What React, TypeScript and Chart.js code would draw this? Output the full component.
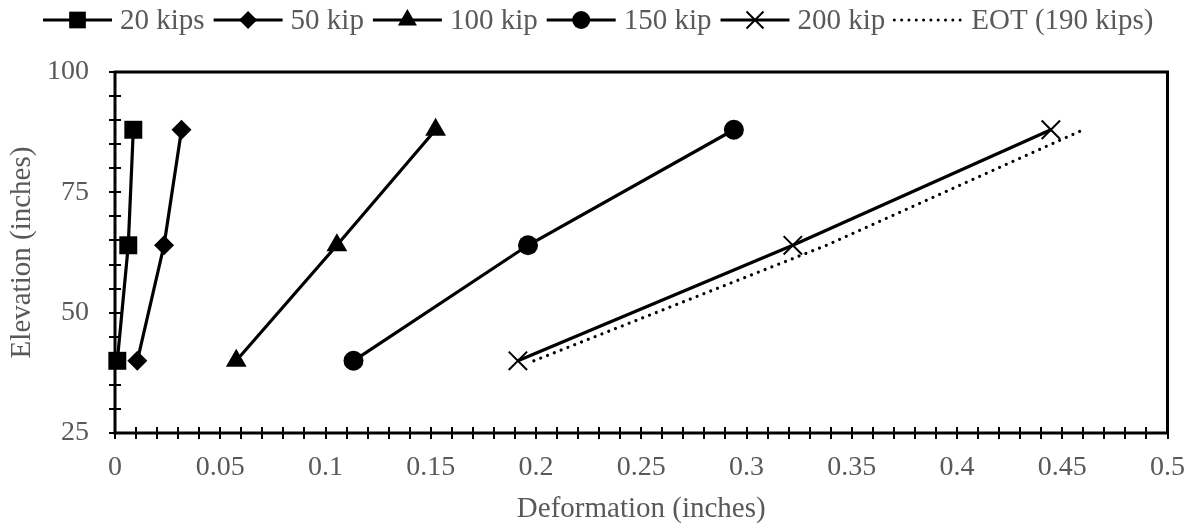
import React, { useEffect, useRef } from 'react';
import { Chart, registerables } from 'chart.js';

Chart.register(...registerables);

// ---- data ----
const elevations = [40, 64, 88];
const seriesLabels = ['20 kips', '50 kip', '100 kip', '150 kip', '200 kip', 'EOT (190 kips)'];
const def20 = [0.0011, 0.0063, 0.0087];
const def50 = [0.0106, 0.0233, 0.0316];
const def100 = [0.0576, 0.1054, 0.1523];
const def150 = [0.1133, 0.1962, 0.294];
const def200 = [0.1914, 0.322, 0.4446];
const defEOT = [0.199, 0.338, 0.46];
const xTickLabels = ['0', '0.05', '0.1', '0.15', '0.2', '0.25', '0.3', '0.35', '0.4', '0.45', '0.5'];
const yTickLabels = ['25', '50', '75', '100'];

const FONT = "'Liberation Serif', 'Times New Roman', serif";
const TEXT = '#595959';

type Sty = { pointStyle: any; radius: number; pbw: number; legendR: number; dash?: number[] };
const styles: Sty[] = [
  { pointStyle: 'rect', radius: 12.7, pbw: 0, legendR: 11.8 },
  { pointStyle: 'rectRot', radius: 10, pbw: 0, legendR: 9 },
  { pointStyle: 'triangle', radius: 12, pbw: 0, legendR: 11 },
  { pointStyle: 'circle', radius: 10, pbw: 0, legendR: 9 },
  { pointStyle: 'crossRot', radius: 13, pbw: 2, legendR: 12 },
  { pointStyle: false, radius: 0, pbw: 0, legendR: 0, dash: [0.01, 7.3] },
];

function drawMarker(ctx: CanvasRenderingContext2D, style: any, x: number, y: number, r: number) {
  ctx.save();
  ctx.fillStyle = '#000';
  ctx.strokeStyle = '#000';
  ctx.beginPath();
  if (style === 'rect') {
    const s = r * Math.SQRT1_2;
    ctx.rect(x - s, y - s, 2 * s, 2 * s);
    ctx.fill();
  } else if (style === 'rectRot') {
    ctx.moveTo(x - r, y);
    ctx.lineTo(x, y - r);
    ctx.lineTo(x + r, y);
    ctx.lineTo(x, y + r);
    ctx.closePath();
    ctx.fill();
  } else if (style === 'triangle') {
    ctx.moveTo(x, y - r);
    ctx.lineTo(x + 0.866 * r, y + 0.5 * r);
    ctx.lineTo(x - 0.866 * r, y + 0.5 * r);
    ctx.closePath();
    ctx.fill();
  } else if (style === 'circle') {
    ctx.arc(x, y, r, 0, Math.PI * 2);
    ctx.fill();
  } else if (style === 'crossRot') {
    const d = r * Math.SQRT1_2;
    ctx.lineWidth = 2;
    ctx.moveTo(x - d, y - d);
    ctx.lineTo(x + d, y + d);
    ctx.moveTo(x + d, y - d);
    ctx.lineTo(x - d, y + d);
    ctx.stroke();
  }
  ctx.restore();
}

const framePlugin = {
  id: 'frameTicks',
  beforeDatasetsDraw(chart: any) {
    const { ctx, chartArea } = chart;
    const xs = chart.scales.x;
    const ys = chart.scales.y;
    ctx.save();
    ctx.strokeStyle = '#000';
    ctx.lineWidth = 2;
    ctx.beginPath();
    xs.ticks.forEach((t: any) => {
      const px = Math.round(xs.getPixelForValue(t.value));
      ctx.moveTo(px, chartArea.bottom);
      ctx.lineTo(px, chartArea.bottom - 6);
    });
    ys.ticks.forEach((t: any) => {
      const py = Math.round(ys.getPixelForValue(t.value));
      ctx.moveTo(chartArea.left, py);
      ctx.lineTo(chartArea.left + 6, py);
    });
    ctx.stroke();
    ctx.lineWidth = 3;
    ctx.strokeRect(chartArea.left, chartArea.top, chartArea.right - chartArea.left, chartArea.bottom - chartArea.top);
    ctx.restore();
  },
  afterDraw(chart: any) {
    const ctx: CanvasRenderingContext2D = chart.ctx;
    const fontSize = 29;
    ctx.save();
    ctx.font = `${fontSize}px ${FONT}`;
    const lineLen = 69;
    const gapLT = 8;
    const gapTT = 9;
    const widths = seriesLabels.map((l) => ctx.measureText(l).width);
    let x = 43;
    const y = 20;
    seriesLabels.forEach((label, i) => {
      const st = styles[i];
      ctx.save();
      ctx.strokeStyle = '#000';
      ctx.lineWidth = 3;
      if (st.dash) {
        ctx.setLineDash(st.dash);
        ctx.lineCap = 'round';
      }
      ctx.beginPath();
      ctx.moveTo(x, y);
      ctx.lineTo(x + lineLen, y);
      ctx.stroke();
      ctx.restore();
      if (st.pointStyle) drawMarker(ctx, st.pointStyle, x + lineLen / 2, y, st.legendR);
      x += lineLen + gapLT;
      ctx.fillStyle = TEXT;
      ctx.textBaseline = 'middle';
      ctx.textAlign = 'left';
      ctx.fillText(label, x, y + 1);
      x += widths[i] + gapTT;
    });
    ctx.restore();
  },
};

const seriesX = [def20, def50, def100, def150, def200, defEOT];

export default function App() {
  const ref = useRef<HTMLCanvasElement>(null);
  useEffect(() => {
    document.body.style.margin = '0';
    const datasets = seriesX.map((xs, i) => {
      const st = styles[i];
      return {
        label: seriesLabels[i],
        data: xs.map((v, j) => ({ x: v, y: elevations[j] })),
        showLine: true,
        borderColor: '#000',
        backgroundColor: '#000',
        borderWidth: 3.2,
        borderDash: st.dash || [],
        borderCapStyle: st.dash ? 'round' : 'butt',
        pointStyle: st.pointStyle,
        pointRadius: st.radius,
        pointHoverRadius: st.radius,
        pointBorderWidth: st.pbw,
        pointBorderColor: '#000',
        pointBackgroundColor: '#000',
        clip: false,
        order: 6 - i,
      };
    });
    const chart = new Chart(ref.current!, {
      type: 'scatter',
      data: { datasets } as any,
      plugins: [framePlugin],
      options: {
        animation: false,
        responsive: true,
        maintainAspectRatio: false,
        layout: { padding: { top: 72, right: 26, left: 0, bottom: 0 } },
        plugins: { legend: { display: false }, tooltip: { enabled: false } },
        scales: {
          x: {
            type: 'linear',
            min: 0,
            max: 0.5,
            afterFit: (s: any) => { s.height = 94; },
            border: { display: false },
            grid: { display: true, drawOnChartArea: false, drawTicks: true, tickLength: 6, color: '#000', lineWidth: 2 },
            ticks: {
              stepSize: 0.01,
              maxTicksLimit: 100,
              autoSkip: false,
              maxRotation: 0,
              padding: 12,
              color: TEXT,
              font: { family: FONT, size: 28 },
              callback: (_v: any, index: number) => (index % 5 === 0 ? xTickLabels[index / 5] : ''),
            },
            title: { display: true, text: 'Deformation (inches)', color: TEXT, font: { family: FONT, size: 29 }, padding: { top: 0, bottom: 0 } },
          },
          y: {
            type: 'linear',
            min: 25,
            max: 100,
            afterFit: (s: any) => { s.width = 115; },
            border: { display: false },
            grid: { display: true, drawOnChartArea: false, drawTicks: true, tickLength: 6, color: '#000', lineWidth: 2 },
            ticks: {
              stepSize: 5,
              maxTicksLimit: 100,
              autoSkip: false,
              padding: 20,
              color: TEXT,
              font: { family: FONT, size: 28 },
              callback: (_v: any, index: number) => (index % 5 === 0 ? yTickLabels[index / 5] : ''),
            },
            title: { display: true, text: 'Elevation (inches)', color: TEXT, font: { family: FONT, size: 29 }, padding: { top: 5, bottom: 0 } },
          },
        },
      } as any,
    });
    return () => chart.destroy();
  }, []);
  return (
    <div style={{ width: 1197, height: 527, position: 'relative' }}>
      <canvas ref={ref} />
    </div>
  );
}
